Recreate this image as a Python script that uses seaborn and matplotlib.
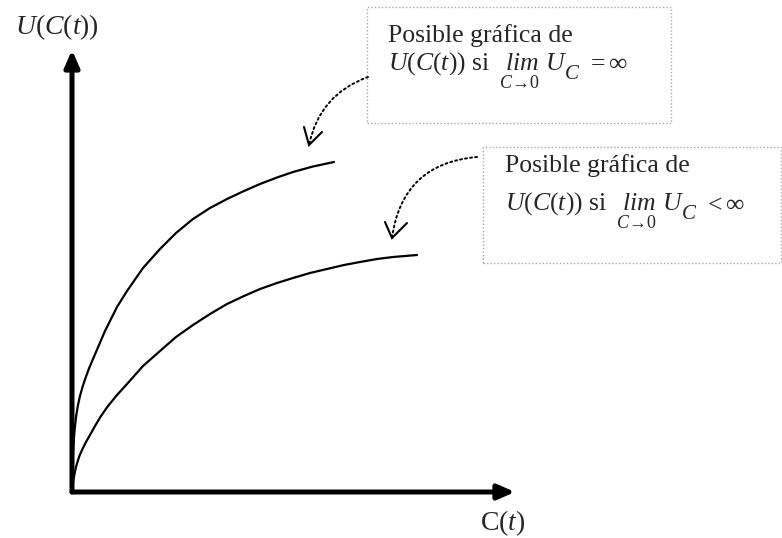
import matplotlib
matplotlib.use("Agg")
import matplotlib.pyplot as plt
import seaborn as sns
from matplotlib.patches import Rectangle, FancyArrowPatch
from matplotlib.lines import Line2D

# Canvas size in pixels
W, H = 782, 538

# Utility curves U(C): one with infinite marginal utility at C -> 0, one with finite
upper_C = [0, 0.02, 0.06, 0.12, 0.2, 0.3, 0.43, 0.6, 0.8, 1.05, 1.35, 1.7, 2.1, 2.7,
           3.3, 3.9, 4.5, 5.5, 7.1, 8.8, 10.4, 12.1, 13.8, 15.5, 17.2, 18.8, 20.5,
           22.1, 24.1, 26.2]
upper_U = [0, 1.4, 2.8, 4.2, 5.5, 6.6, 7.7, 8.7, 9.6, 10.5, 11.4, 12.35, 13.3, 14.7,
           16.1, 17.3, 18.5, 20.1, 22.4, 24.3, 25.9, 27.3, 28.4, 29.3, 30.1, 30.8,
           31.45, 32.0, 32.55, 33.0]
lower_C = [0, 0.1, 0.25, 0.4, 0.7, 1.0, 1.4, 1.8, 2.3, 2.9, 3.6, 4.5, 5.5, 7.1, 8.8,
           10.4, 12.1, 13.8, 15.5, 17.2, 18.8, 20.5, 22.1, 23.8, 25.5, 27.2, 28.8,
           30.5, 32.1, 33.3, 34.5]
lower_U = [0, 1.0, 1.8, 2.5, 3.5, 4.2, 5.0, 5.7, 6.6, 7.6, 8.6, 9.7, 10.8, 12.6, 14.1,
           15.5, 16.7, 17.8, 18.8, 19.6, 20.3, 20.9, 21.4, 21.9, 22.3, 22.7, 23.0,
           23.3, 23.5, 23.6, 23.7]

# Text
y_label = r"$U(C(t))$"
x_label = r"$\mathrm{C}(t)$"
note_title = "Posible gráfica de"
note_lead = r"$U(C(t))$ si"
note_lim = r"$lim$"
note_lim_sub = r"$C\!\rightarrow\!0$"
note_u = r"$U$"
note_u_sub = r"$C$"
note_rel = [r"$=\infty$", r"$<\infty$"]

sns.set_theme(style="white")
plt.rcParams.update({
    "font.family": ["Liberation Serif", "DejaVu Serif"],
    "mathtext.fontset": "custom",
    "mathtext.rm": "Liberation Serif",
    "mathtext.it": "Liberation Serif:italic",
    "mathtext.bf": "Liberation Serif:bold",
})

fig = plt.figure(figsize=(W / 100, H / 100), dpi=100)
fig.patch.set_facecolor("white")


def fp(x, y):
    """Pixel position (from top-left) to figure fraction."""
    return (x / W, 1 - y / H)


# Axes whose origin sits at the corner of the drawn axis arrows
ox, oy = 72, 492
ax = fig.add_axes([ox / W, (H - oy) / H, 443 / W, 442 / H])
ax.set_xlim(0, 44.3)
ax.set_ylim(0, 44.2)
ax.axis("off")

sns.lineplot(x=upper_C, y=upper_U, ax=ax, color="black", lw=1.6,
             estimator=None, sort=False)
sns.lineplot(x=lower_C, y=lower_U, ax=ax, color="black", lw=1.6,
             estimator=None, sort=False)

# Axis arrows
for tip in [(44.3, 0), (0, 44.2)]:
    ax.annotate("", xy=tip, xytext=(0, 0), annotation_clip=False,
                arrowprops=dict(arrowstyle="-|>,head_length=0.5,head_width=0.22",
                                lw=3.6, color="black", shrinkA=0, shrinkB=0,
                                mutation_scale=20))

fig.text(*fp(15, 34), y_label, fontsize=20, ha="left", va="baseline")
fig.text(*fp(480, 530), x_label, fontsize=20, ha="left", va="baseline")

# Dotted note boxes
boxes = [(367, 7, 671, 123), (483, 147, 781, 263)]
for x0, y0, x1, y1 in boxes:
    fig.add_artist(Rectangle(fp(x0, y1), (x1 - x0) / W, (y1 - y0) / H,
                             transform=fig.transFigure, fill=False,
                             ec="#a9a9a9", lw=1.0, ls=(0, (1, 1.5))))

# Note text
fs = 18.5
notes = [(388, 42, 70), (505, 172, 210)]
for (x0, yb1, yb2), rel in zip(notes, note_rel):
    fig.text(*fp(x0, yb1), note_title, fontsize=fs, ha="left", va="baseline")
    fig.text(*fp(x0, yb2), note_lead, fontsize=fs, ha="left", va="baseline")
    fig.text(*fp(x0 + 117, yb2), note_lim, fontsize=fs, ha="left", va="baseline")
    fig.text(*fp(x0 + 132, yb2 + 18), note_lim_sub, fontsize=13,
             ha="center", va="baseline")
    fig.text(*fp(x0 + 157, yb2), note_u, fontsize=fs, ha="left", va="baseline")
    fig.text(*fp(x0 + 176, yb2 + 9), note_u_sub, fontsize=15, ha="left",
             va="baseline")
    fig.text(*fp(x0 + 199, yb2), rel, fontsize=fs, ha="left", va="baseline")

# Curved dotted pointers with open V heads
pointers = [
    ((368, 77), (309, 145), 0.28, (304, 127), (322, 132)),
    ((477, 157), (392, 238), 0.40, (385, 222), (407, 223)),
]
for start, end, rad, arm1, arm2 in pointers:
    fig.add_artist(FancyArrowPatch(fp(*start), fp(*end), transform=fig.transFigure,
                                   connectionstyle=f"arc3,rad={rad}",
                                   arrowstyle="-", ls=(0, (1, 1.6)), lw=1.4,
                                   color="black", shrinkA=0, shrinkB=0))
    pts = [fp(*arm1), fp(*end), fp(*arm2)]
    fig.add_artist(Line2D([p[0] for p in pts], [p[1] for p in pts],
                          transform=fig.transFigure, color="black", lw=1.5,
                          solid_joinstyle="miter"))

fig.savefig("out.png", dpi=100, facecolor="white")
